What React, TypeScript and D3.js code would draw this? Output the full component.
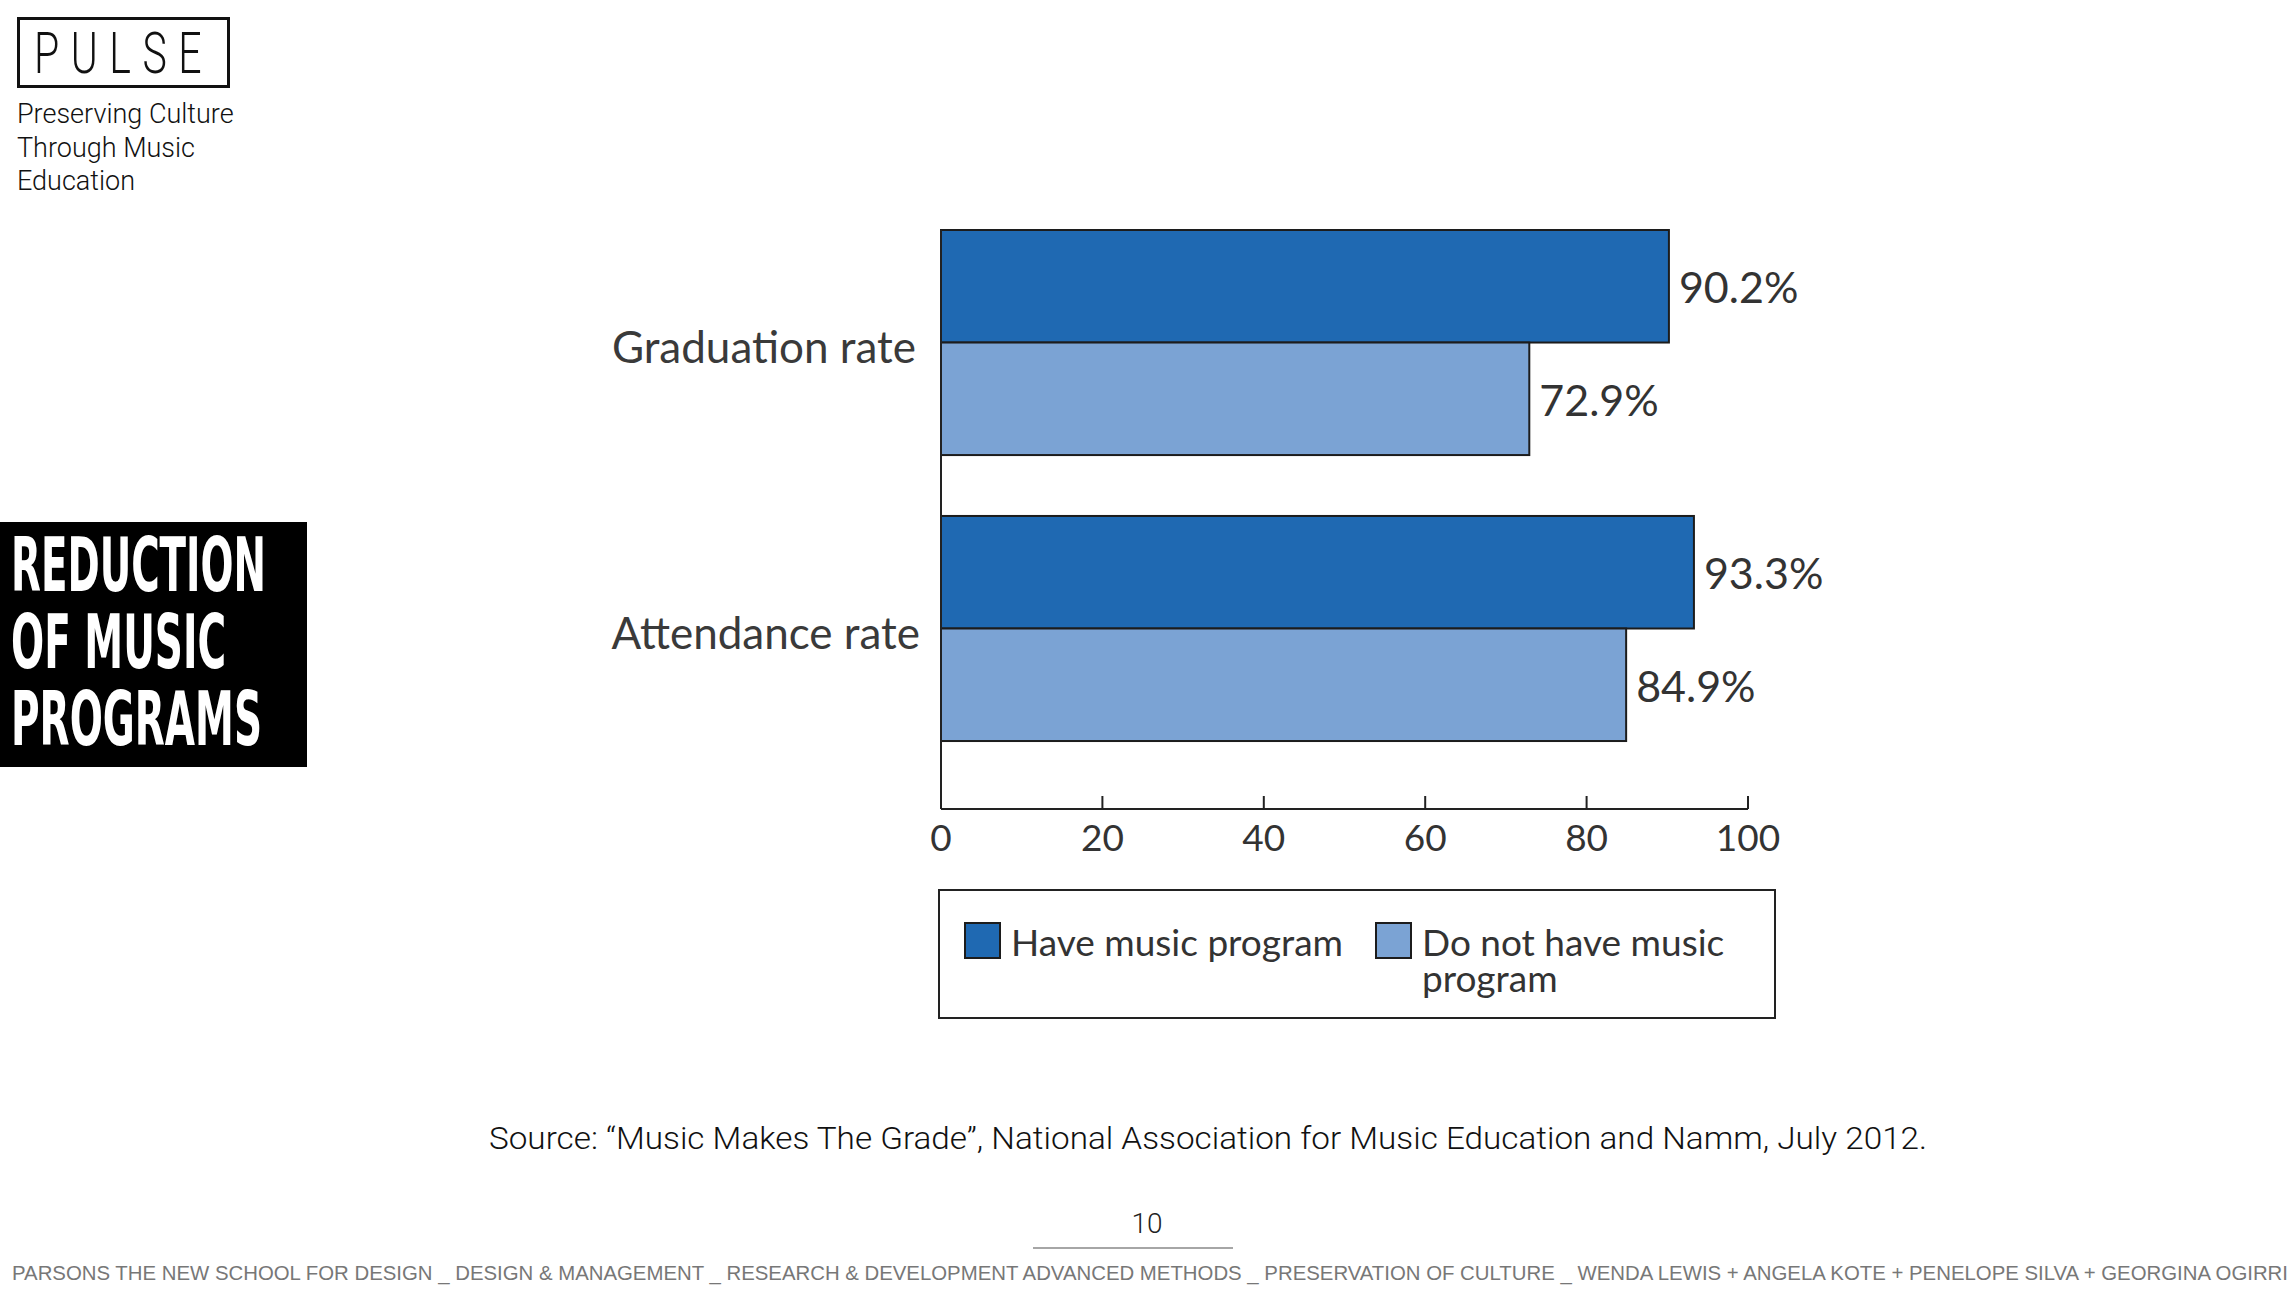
import React from 'react';
import * as d3 from 'd3';

const categories = ['Graduation rate', 'Attendance rate'];
const seriesNames = ['Have music program', 'Do not have music program'];
const haveMusic = [90.2, 93.3];
const noMusic = [72.9, 84.9];
const xTicks = [0, 20, 40, 60, 80, 100];
const sideLines = ['Preserving Culture', 'Through Music', 'Education'];
const titleLines = ['REDUCTION', 'OF MUSIC', 'PROGRAMS'];
const titleWidths = [255, 215, 251];

const W = 2294;
const H = 1290;
const chartFont = 'Lato, "Open Sans", sans-serif';
const plainFont = '"Liberation Sans", Arial, sans-serif';
const lightFont = 'Roboto, "Liberation Sans", sans-serif';
const colors = ['#1f69b2', '#7ba3d4'];

export default function App() {
  const x = d3.scaleLinear().domain([0, 100]).range([941, 1748]);
  const y = d3
    .scaleBand<string>()
    .domain(categories)
    .range([230, 802])
    .paddingInner(0.213)
    .paddingOuter(0.1066)
    .align(0);
  const sub = d3
    .scaleBand<string>()
    .domain(seriesNames)
    .range([0, y.bandwidth()]);
  const values = [haveMusic, noMusic];
  const axisTop = 230;
  const axisBottom = 809;

  // legend layout
  const lg = { x: 939, y: 890, w: 836, h: 128 };
  const legendX = [lg.x + 26, lg.x + 437];

  return (
    <svg
      width={W}
      height={H}
      style={{ position: 'absolute', left: 0, top: 0, background: '#fff' }}
    >
      {/* header */}
      <rect x={18.5} y={18.5} width={210} height={68} fill="none" stroke="#111" strokeWidth={3} />
      <g transform="translate(34,73) scale(0.72,1)">
        <text fontFamily={lightFont} fontSize={57} fontWeight={300} fill="#111" letterSpacing={16}>
          PULSE
        </text>
      </g>
      {sideLines.map((t, i) => (
        <text key={t} x={17} y={123 + i * 33.5} fontFamily={lightFont} fontWeight={300} fontSize={27} fill="#111">
          {t}
        </text>
      ))}

      {/* black title block */}
      <rect x={0} y={522} width={307} height={245} fill="#000" />
      {titleLines.map((t, i) => (
        <text
          key={t}
          x={11}
          y={591 + i * 77}
          fontFamily={'"Liberation Sans Narrow", "DejaVu Sans Condensed", sans-serif'}
          fontWeight={700}
          fontSize={74}
          fill="#fff"
          textLength={titleWidths[i]}
          lengthAdjust="spacingAndGlyphs"
        >
          {t}
        </text>
      ))}

      {/* bars */}
      {categories.map((c, ci) => (
        <g key={c} transform={`translate(0,${y(c)})`}>
          {seriesNames.map((s, si) => {
            const v = values[si][ci];
            const by = sub(s)!;
            return (
              <g key={s}>
                <rect
                  x={x(0)}
                  y={by}
                  width={x(v) - x(0)}
                  height={sub.bandwidth()}
                  fill={colors[si]}
                  stroke="#1c1c1c"
                  strokeWidth={2}
                />
                <text
                  x={x(v) + 10}
                  y={by + sub.bandwidth() / 2 + 2}
                  dy="0.35em"
                  fontFamily={chartFont}
                  fontSize={43}
                  fill="#333"
                >
                  {v.toFixed(1)}%
                </text>
              </g>
            );
          })}
          <text
            x={ci === 0 ? 916 : 920}
            y={y.bandwidth() / 2 + 5}
            dy="0.35em"
            textAnchor="end"
            fontFamily={chartFont}
            fontSize={44}
            fill="#3a3a3a"
          >
            {c}
          </text>
        </g>
      ))}

      {/* axes */}
      <line x1={x(0)} x2={x(0)} y1={axisTop} y2={axisBottom} stroke="#222" strokeWidth={2} />
      <line x1={x(0)} x2={x(100)} y1={axisBottom} y2={axisBottom} stroke="#222" strokeWidth={2} />
      {xTicks.map((t) => (
        <g key={t}>
          <line x1={x(t)} x2={x(t)} y1={axisBottom - 13} y2={axisBottom} stroke="#222" strokeWidth={2} />
          <text
            x={x(t)}
            y={851}
            textAnchor="middle"
            fontFamily={chartFont}
            fontSize={37}
            fill="#333"
          >
            {t}
          </text>
        </g>
      ))}

      {/* legend */}
      <rect x={lg.x} y={lg.y} width={lg.w} height={lg.h} fill="#fff" stroke="#222" strokeWidth={2} />
      {seriesNames.map((s, i) => (
        <g key={s}>
          <rect
            x={legendX[i]}
            y={923}
            width={35}
            height={35}
            fill={colors[i]}
            stroke="#1c1c1c"
            strokeWidth={2}
          />
          <text x={legendX[i] + 46} y={956} fontFamily={chartFont} fontSize={37} fill="#333">
            {i === 0 ? s : 'Do not have music'}
          </text>
          {i === 1 && (
            <text x={legendX[i] + 46} y={992} fontFamily={chartFont} fontSize={37} fill="#333">
              program
            </text>
          )}
        </g>
      ))}

      {/* source + footer */}
      <text
        x={489}
        y={1149}
        fontFamily={lightFont}
        fontWeight={300}
        fontSize={31}
        fill="#111"
        textLength={1438}
        lengthAdjust="spacingAndGlyphs"
      >
        Source: “Music Makes The Grade”, National Association for Music Education and Namm, July 2012.
      </text>
      <text x={1147} y={1233} textAnchor="middle" fontFamily={lightFont} fontWeight={300} fontSize={28} fill="#222">
        10
      </text>
      <line x1={1033} x2={1233} y1={1248} y2={1248} stroke="#888" strokeWidth={1.5} />
      <text
        x={12}
        y={1280}
        fontFamily={plainFont}
        fontSize={20}
        fill="#777"
        textLength={2276}
        lengthAdjust="spacingAndGlyphs"
      >
        PARSONS THE NEW SCHOOL FOR DESIGN _ DESIGN &amp; MANAGEMENT _ RESEARCH &amp; DEVELOPMENT ADVANCED METHODS _ PRESERVATION OF CULTURE _ WENDA LEWIS + ANGELA KOTE + PENELOPE SILVA + GEORGINA OGIRRI
      </text>
    </svg>
  );
}
